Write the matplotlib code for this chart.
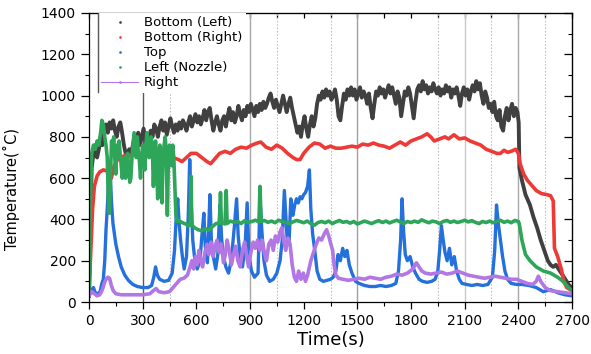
import matplotlib
matplotlib.use("Agg")
import matplotlib.pyplot as plt
from matplotlib.lines import Line2D
from matplotlib.ticker import MultipleLocator

# ---------------- data ----------------
labels = ["Bottom (Left)", "Bottom (Right)", "Top", "Left (Nozzle)", "Right"]
colors = ["#404040", "#ee3a36", "#2470dc", "#2ea65a", "#b277e4"]

bl_t = [0, 8, 15, 25, 35, 45, 55, 65, 75, 85, 95, 105, 115, 125, 135, 145, 155, 165, 175, 185,
        195, 205, 215, 225, 235, 245, 255, 265, 275, 285, 295, 305, 315, 325, 335, 345, 355, 365,
        375, 385, 395, 405, 415, 425, 435, 445, 455, 465, 475, 485, 495, 505, 515, 525, 535, 545,
        555, 565, 575, 585, 595, 605, 615, 625, 635, 645, 655, 665, 675, 685, 695, 705, 715, 725,
        735, 745, 755, 765, 775, 785, 795, 805, 815, 825, 835, 845, 855, 865, 875, 885, 895, 905,
        915, 925, 935, 945, 955, 965, 975, 985, 995, 1005, 1015, 1025, 1035, 1045, 1055, 1065,
        1075, 1085, 1095, 1105, 1115, 1125, 1135, 1145, 1155, 1165, 1175, 1185, 1195, 1205, 1215,
        1225, 1235, 1245, 1255, 1265, 1275, 1285, 1295, 1305, 1315, 1325, 1335, 1345, 1355, 1365,
        1375, 1385, 1395, 1405, 1415, 1425, 1435, 1445, 1455, 1465, 1475, 1485, 1495, 1505, 1515,
        1525, 1535, 1545, 1555, 1565, 1575, 1585, 1595, 1605, 1615, 1625, 1635, 1645, 1655, 1665,
        1675, 1685, 1695, 1705, 1715, 1725, 1735, 1745, 1755, 1765, 1775, 1785, 1795, 1805, 1815,
        1825, 1835, 1845, 1855, 1865, 1875, 1885, 1895, 1905, 1915, 1925, 1935, 1945, 1955, 1965,
        1975, 1985, 1995, 2005, 2015, 2025, 2035, 2045, 2055, 2065, 2075, 2085, 2095, 2105, 2115,
        2125, 2135, 2145, 2155, 2165, 2175, 2185, 2195, 2205, 2215, 2225, 2235, 2245, 2255, 2265,
        2275, 2285, 2295, 2305, 2315, 2325, 2335, 2345, 2355, 2365, 2375, 2385, 2395, 2402, 2406,
        2420, 2440, 2465, 2485, 2505, 2525, 2545, 2565, 2580, 2595, 2610, 2625, 2640, 2655, 2670,
        2685, 2700]
bl_T = [30, 400, 650, 720, 760, 700, 740, 800, 760, 830, 860, 820, 870, 840, 880, 830, 800, 850,
        870, 820, 760, 720, 700, 740, 710, 760, 800, 770, 820, 760, 800, 840, 790, 750, 790, 830,
        800, 860, 840, 800, 850, 880, 830, 870, 810, 850, 890, 850, 820, 860, 830, 870, 840, 880,
        860, 830, 870, 900, 850, 880, 910, 870, 900, 860, 890, 930, 880, 920, 940, 880, 830, 870,
        900, 860, 830, 880, 900, 850, 900, 940, 880, 920, 870, 900, 950, 910, 880, 930, 900, 950,
        920, 960, 930, 900, 950, 920, 960, 930, 970, 940, 960, 990, 1010, 970, 940, 980, 950, 920,
        960, 1000, 960, 920, 960, 990, 940, 900, 860, 820, 850, 800, 860, 900, 840, 800, 860, 900,
        850, 890, 960, 1000, 980, 1020, 990, 1030, 1000, 1020, 980, 1000, 1030, 980, 900, 880, 950,
        1010, 980, 1030, 1000, 1040, 1000, 1030, 980, 1010, 1040, 990, 1020, 1000, 960, 1010, 940,
        890, 960, 1020, 1000, 1040, 1010, 1030, 990, 1020, 1050, 1010, 1040, 1000, 960, 1020, 990,
        900, 960, 1020, 1000, 1040, 1010, 950, 890, 970, 1030, 1050, 1020, 1070, 1030, 1050, 1010,
        1040, 1020, 1060, 1030, 1010, 1040, 1000, 1030, 1010, 1050, 1020, 1040, 990, 1030, 1010,
        1040, 1000, 950, 1010, 1040, 1000, 1030, 980, 1020, 1050, 1020, 1070, 1030, 1060, 1000,
        960, 1020, 990, 940, 960, 920, 970, 900, 880, 930, 850, 830, 900, 940, 880, 930, 960, 900,
        940, 920, 870, 650, 590, 520, 470, 410, 360, 300, 250, 200, 180, 170, 180, 160, 140, 120,
        100, 80, 70]

br_t = [0, 10, 20, 30, 45, 60, 80, 100, 115, 125, 140, 160, 180, 200, 230, 260, 290, 320, 350,
        380, 410, 440, 470, 500, 520, 545, 570, 600, 630, 660, 680, 700, 730, 760, 790, 820, 850,
        880, 910, 940, 960, 990, 1020, 1050, 1080, 1110, 1140, 1160, 1180, 1200, 1230, 1260, 1290,
        1320, 1350, 1380, 1410, 1440, 1470, 1500, 1530, 1560, 1590, 1620, 1650, 1680, 1710, 1740,
        1770, 1800, 1830, 1860, 1890, 1910, 1930, 1960, 1990, 2010, 2040, 2070, 2100, 2130, 2160,
        2190, 2220, 2250, 2280, 2300, 2320, 2340, 2360, 2385, 2400, 2410, 2430, 2450, 2470, 2500,
        2530, 2560, 2580, 2595, 2602, 2620, 2640, 2655, 2670, 2700]
br_T = [30, 250, 450, 560, 610, 630, 640, 635, 610, 600, 660, 690, 700, 710, 710, 715, 720, 715,
        720, 710, 715, 705, 700, 690, 680, 700, 720, 720, 700, 680, 670, 690, 720, 730, 720, 740,
        750, 745, 760, 770, 775, 750, 740, 760, 745, 720, 700, 690, 690, 720, 750, 770, 765, 745,
        755, 745, 745, 750, 755, 750, 765, 760, 770, 760, 755, 745, 760, 775, 760, 780, 790, 800,
        815, 800, 780, 790, 800, 790, 810, 790, 795, 780, 770, 760, 740, 730, 720, 720, 735, 725,
        730, 740, 720, 670, 620, 590, 570, 540, 525, 520, 515, 490, 260, 220, 160, 100, 70, 55]

top_t = [0, 15, 25, 35, 50, 62, 72, 80, 88, 95, 102, 108, 114, 120, 126, 134, 142, 150, 165, 180,
         200, 220, 245, 270, 300, 330, 350, 362, 372, 382, 395, 420, 445, 465, 478, 488, 496, 504,
         512, 522, 532, 545, 555, 563, 570, 580, 592, 605, 620, 632, 642, 650, 662, 676, 684, 695,
         708, 720, 732, 742, 752, 765, 780, 795, 812, 825, 834, 845, 858, 872, 884, 894, 908, 925,
         945, 956, 966, 978, 992, 1010, 1030, 1050, 1068, 1080, 1092, 1100, 1108, 1118, 1128,
         1140, 1150, 1160, 1170, 1180, 1190, 1200, 1210, 1222, 1232, 1240, 1250, 1262, 1275,
         1290, 1310, 1330, 1350, 1365, 1380, 1392, 1405, 1418, 1430, 1442, 1455, 1470, 1490,
         1510, 1540, 1570, 1600, 1630, 1660, 1690, 1715, 1730, 1742, 1750, 1758, 1768, 1780,
         1795, 1810, 1825, 1845, 1865, 1890, 1915, 1935, 1950, 1960, 1970, 1980, 1990, 2002,
         2015, 2028, 2042, 2055, 2070, 2085, 2110, 2140, 2170, 2200, 2230, 2255, 2268, 2278,
         2288, 2300, 2312, 2325, 2340, 2360, 2390, 2420, 2460, 2500, 2540, 2580, 2620, 2660, 2700]
top_T = [40, 60, 70, 45, 40, 50, 90, 110, 200, 350, 450, 560, 640, 600, 480, 380, 330, 280, 220,
         170, 130, 105, 85, 75, 70, 70, 80, 120, 170, 130, 110, 100, 105, 140, 250, 420, 500, 380,
         300, 220, 160, 220, 420, 690, 500, 300, 200, 160, 200, 330, 430, 270, 190, 520, 300, 220,
         160, 230, 470, 300, 220, 170, 140, 200, 360, 500, 320, 220, 170, 260, 480, 230, 150, 120,
         140, 500, 350, 200, 130, 100, 110, 140, 200, 300, 540, 420, 300, 280, 500, 420, 470, 500,
         480, 510, 500, 520, 530, 560, 640, 450, 330, 250, 150, 110, 100, 105, 110, 120, 150, 230,
         200, 260, 220, 250, 180, 140, 100, 90, 80, 75, 75, 80, 75, 80, 90, 150, 300, 500, 350,
         230, 200, 220, 170, 140, 110, 100, 95, 100, 110, 150, 250, 370, 300, 240, 200, 260, 180,
         220, 150, 110, 90, 85, 80, 85, 80, 85, 120, 250, 470, 380, 300, 220, 150, 110, 90, 85, 85,
         80, 70, 50, 60, 45, 35, 30]

gn_t = [0, 8, 15, 25, 35, 45, 55, 65, 72, 80, 88, 95, 102, 108, 114, 120, 126, 132, 138, 144,
        150, 156, 162, 168, 174, 180, 186, 192, 198, 204, 210, 216, 222, 228, 234, 240, 246, 252,
        258, 264, 270, 276, 282, 288, 294, 300, 306, 312, 318, 324, 330, 336, 342, 348, 354, 360,
        366, 372, 378, 384, 390, 396, 402, 408, 414, 420, 426, 432, 438, 444, 450, 456, 462, 468,
        474, 480, 486, 492, 500, 520, 540, 555, 565, 570, 575, 590, 610, 630, 650, 670, 690, 710,
        730, 735, 740, 760, 767, 772, 790, 810, 830, 850, 870, 890, 910, 930, 950, 956, 962, 980,
        1000, 1020, 1040, 1060, 1080, 1100, 1120, 1140, 1160, 1180, 1200, 1220, 1240, 1260, 1280,
        1300, 1320, 1340, 1360, 1380, 1400, 1420, 1440, 1460, 1480, 1500, 1520, 1540, 1560, 1580,
        1600, 1620, 1640, 1660, 1680, 1700, 1720, 1740, 1760, 1780, 1800, 1820, 1840, 1860, 1880,
        1900, 1920, 1940, 1960, 1980, 2000, 2020, 2040, 2060, 2080, 2100, 2120, 2140, 2160, 2180,
        2200, 2220, 2240, 2260, 2280, 2300, 2320, 2340, 2360, 2380, 2400, 2405, 2420, 2440, 2465,
        2500, 2540, 2580, 2620, 2650, 2680, 2700]
gn_T = [30, 500, 720, 760, 740, 780, 760, 820, 880, 860, 800, 760, 700, 500, 430, 600, 780, 740,
        800, 700, 620, 760, 700, 780, 720, 660, 600, 640, 700, 600, 650, 720, 640, 580, 600, 700,
        760, 820, 760, 700, 800, 720, 680, 600, 700, 760, 700, 640, 760, 820, 780, 700, 760, 800,
        740, 560, 720, 780, 700, 500, 700, 760, 720, 480, 700, 760, 800, 720, 420, 700, 760, 720,
        660, 760, 700, 560, 420, 390, 395, 385, 378, 370, 372, 610, 372, 360, 350, 345, 355, 348,
        365, 380, 382, 530, 384, 378, 540, 380, 392, 386, 390, 380, 394, 386, 390, 396, 388, 560,
        390, 395, 386, 392, 384, 396, 390, 385, 380, 388, 395, 390, 384, 392, 380, 372, 385, 390,
        384, 392, 380, 388, 395, 386, 390, 382, 390, 378, 385, 392, 386, 380, 388, 394, 385, 392,
        383, 390, 396, 388, 380, 390, 385, 392, 386, 398, 390, 384, 392, 388, 380, 390, 395, 386,
        392, 385, 390, 396, 388, 394, 386, 380, 390, 385, 392, 384, 390, 396, 386, 392, 384, 395,
        390, 380, 300, 230, 200, 170, 150, 140, 120, 100, 70, 55]

rt_t = [0, 15, 30, 45, 60, 75, 85, 95, 105, 115, 125, 135, 150, 180, 220, 260, 300, 340, 360,
        375, 390, 420, 450, 470, 490, 510, 530, 550, 565, 575, 585, 595, 605, 615, 625, 635, 648,
        660, 670, 682, 694, 705, 716, 728, 740, 752, 762, 772, 784, 796, 808, 820, 832, 845, 858,
        870, 880, 892, 905, 918, 930, 942, 955, 968, 980, 992, 1005, 1018, 1030, 1042, 1055,
        1068, 1078, 1088, 1100, 1112, 1124, 1136, 1148, 1160, 1172, 1185, 1198, 1210, 1222,
        1240, 1255, 1270, 1285, 1300, 1315, 1328, 1340, 1352, 1362, 1370, 1380, 1395, 1420,
        1450, 1480, 1510, 1540, 1570, 1600, 1630, 1660, 1690, 1720, 1750, 1780, 1810, 1830,
        1845, 1860, 1880, 1910, 1940, 1970, 2000, 2030, 2060, 2090, 2120, 2150, 2180, 2210,
        2240, 2270, 2300, 2330, 2360, 2390, 2420, 2450, 2480, 2500, 2512, 2525, 2550, 2580,
        2620, 2660, 2700]
rt_T = [30, 50, 40, 30, 35, 60, 90, 110, 120, 115, 80, 55, 40, 35, 35, 35, 35, 40, 55, 65, 50,
        45, 50, 70, 90, 110, 115, 130, 170, 200, 160, 220, 180, 250, 200, 170, 240, 280, 230, 290,
        220, 270, 300, 240, 280, 190, 230, 300, 250, 180, 230, 270, 200, 170, 250, 290, 230, 170,
        240, 290, 260, 300, 250, 300, 240, 200, 280, 300, 250, 320, 290, 340, 360, 300, 250, 310,
        280, 180, 120, 100, 150, 110, 140, 100, 130, 200, 240, 280, 310, 300, 330, 350, 320, 280,
        250, 180, 130, 115, 110, 105, 110, 115, 110, 120, 115, 110, 120, 125, 135, 130, 140, 160,
        190, 170, 150, 140, 135, 140, 145, 135, 140, 150, 140, 130, 125, 120, 115, 120, 125, 120,
        115, 110, 110, 100, 90, 85, 100, 125, 100, 70, 55, 50, 45, 40]

series_t = [bl_t, br_t, top_t, gn_t, rt_t]
series_T = [bl_T, br_T, top_T, gn_T, rt_T]
series_lw = [2.8, 2.6, 2.4, 2.6, 2.6]

x_ticks = [0, 300, 600, 900, 1200, 1500, 1800, 2100, 2400, 2700]
y_ticks = [0, 200, 400, 600, 800, 1000, 1200, 1400]

# event (reference) lines
solid_events = [300, 900, 1500, 2100, 2400]
solid_event_colors = ["#5a5a5a", "#a8a8a8", "#a0a0a0", "#c8c8c8", "#a8a8a8"]
dotted_events = [450, 1050, 1350, 1950, 2250, 2550]

# ---------------- figure ----------------
fig = plt.figure(figsize=(5.91, 3.54), dpi=100)
ax = fig.add_axes([89 / 591, 1 - 302 / 354, 483 / 591, 289 / 354])

for xe, ce in zip(solid_events, solid_event_colors):
    ax.axvline(xe, color=ce, lw=1.0, zorder=0.5)
for xe in dotted_events:
    ax.axvline(xe, color="#c4c4c4", lw=0.8, ls=(0, (1.5, 1.5)), zorder=0.5)

for t, T, c, lw in zip(series_t, series_T, colors, series_lw):
    ax.plot(t, T, color=c, lw=lw, solid_joinstyle="round", zorder=2)

ax.set_xlim(0, 2700)
ax.set_ylim(0, 1400)
ax.set_xticks(x_ticks)
ax.set_yticks(y_ticks)
ax.xaxis.set_minor_locator(MultipleLocator(150))
ax.yaxis.set_minor_locator(MultipleLocator(100))
ax.tick_params(axis="both", which="major", direction="out", length=5, width=0.9,
               labelsize=10, colors="black")
ax.tick_params(axis="both", which="minor", direction="out", length=3, width=0.8)
ax.tick_params(axis="y", which="major", length=6)
for s in ax.spines.values():
    s.set_linewidth(0.9)

secx = ax.secondary_xaxis("top")
secx.xaxis.set_major_locator(MultipleLocator(300))
secx.xaxis.set_minor_locator(MultipleLocator(150))
secx.tick_params(which="both", direction="in", length=3.5, width=0.9, labeltop=False)
secy = ax.secondary_yaxis("right")
secy.yaxis.set_major_locator(MultipleLocator(200))
secy.yaxis.set_minor_locator(MultipleLocator(100))
secy.tick_params(which="major", direction="in", length=6, width=0.9, labelright=False)
secy.tick_params(which="minor", direction="in", length=3, width=0.8, labelright=False)

ax.set_xlabel("Time(s)", fontsize=13, labelpad=2)
ax.set_ylabel("Temperature(˚C)", fontsize=10.5)
ax.yaxis.set_label_coords(-0.143, 0.39)

handles = []
for i, c in enumerate(colors):
    if i < 4:
        handles.append(Line2D([], [], color=c, ls="none", marker=".", markersize=1.8))
    else:
        handles.append(Line2D([], [], color=c, lw=0.8, marker=".", markersize=1.8))
leg = ax.legend(handles, labels, loc="upper left", bbox_to_anchor=(0.0186, 1.0),
                borderaxespad=0, fontsize=9.5, labelspacing=0.15, handlelength=2.8,
                handletextpad=0.45, borderpad=0.25, frameon=True, fancybox=False)
leg.get_frame().set_edgecolor("none")
leg.get_frame().set_facecolor("white")
leg.get_frame().set_alpha(1)

# thin dark line at the legend's left edge as in the reference
ax.axvline(50, ymin=0.727, ymax=1.0, color="#555555", lw=1.0, zorder=6)

fig.savefig("out.png", dpi=100)
